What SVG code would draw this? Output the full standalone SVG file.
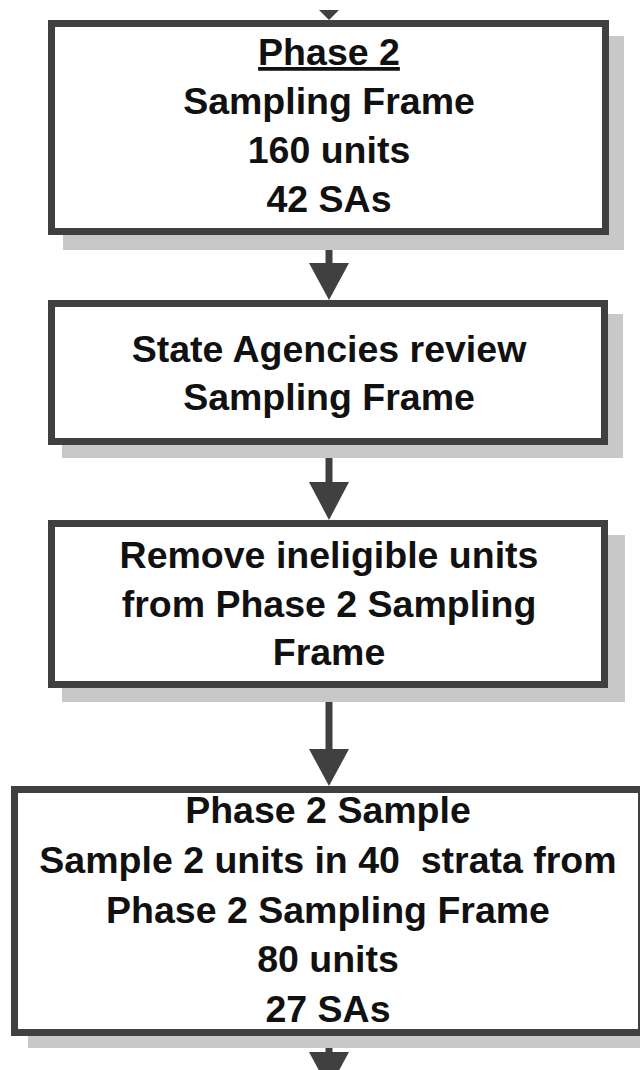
<svg xmlns="http://www.w3.org/2000/svg" width="640" height="1070" viewBox="0 0 640 1070">
<style>
.box{fill:#fff;stroke:#404040;stroke-width:7}
.shadow{fill:#c8c8c8}
.t{font-family:"Liberation Sans",Arial,sans-serif;font-size:37.5px;font-weight:bold;fill:#111;text-anchor:middle}
.line{stroke:#404040;stroke-width:7;fill:none}
.head{fill:#404040}
</style>
<rect width="640" height="1070" fill="#fff"/>
<g id="connectors">
<polygon class="head" points="319,10 339,10 329,20"/>
<line class="line" x1="329" y1="235" x2="329" y2="265"/>
<polygon class="head" points="309,263 349,263 329,300"/>
<line class="line" x1="329" y1="445" x2="329" y2="484"/>
<polygon class="head" points="309,482 349,482 329,520"/>
<line class="line" x1="329" y1="688" x2="329" y2="751"/>
<polygon class="head" points="309,749 349,749 329,786"/>
<line class="line" x1="329" y1="1036" x2="329" y2="1054"/>
<polygon class="head" points="309,1052 349,1052 329,1089"/>
</g>
<g id="node1">
<rect class="shadow" x="63" y="36" width="561" height="214"/>
<rect class="box" x="51.5" y="23.5" width="554" height="208"/>
<text class="t" x="329" y="65" text-decoration="underline">Phase 2</text>
<text class="t" x="329" y="114">Sampling Frame</text>
<text class="t" x="329" y="163">160 units</text>
<text class="t" x="329" y="212">42 SAs</text>
</g>
<g id="node2">
<rect class="shadow" x="62" y="314" width="561" height="144"/>
<rect class="box" x="51.5" y="303.5" width="553" height="138"/>
<text class="t" x="329" y="362">State Agencies review</text>
<text class="t" x="329" y="410">Sampling Frame</text>
</g>
<g id="node3">
<rect class="shadow" x="62" y="535" width="563" height="167"/>
<rect class="box" x="51.5" y="523.5" width="553" height="161"/>
<text class="t" x="329" y="568">Remove ineligible units</text>
<text class="t" x="329" y="617">from Phase 2 Sampling</text>
<text class="t" x="329" y="665">Frame</text>
</g>
<g id="node4">
<rect class="shadow" x="28" y="800" width="640" height="248"/>
<rect class="box" x="14.5" y="789.5" width="627" height="243"/>
<text class="t" x="328" y="823">Phase 2 Sample</text>
<text class="t" x="328" y="873" xml:space="preserve">Sample 2 units in 40  strata from</text>
<text class="t" x="328" y="923">Phase 2 Sampling Frame</text>
<text class="t" x="328" y="972">80 units</text>
<text class="t" x="328" y="1022">27 SAs</text>
</g>
</svg>
